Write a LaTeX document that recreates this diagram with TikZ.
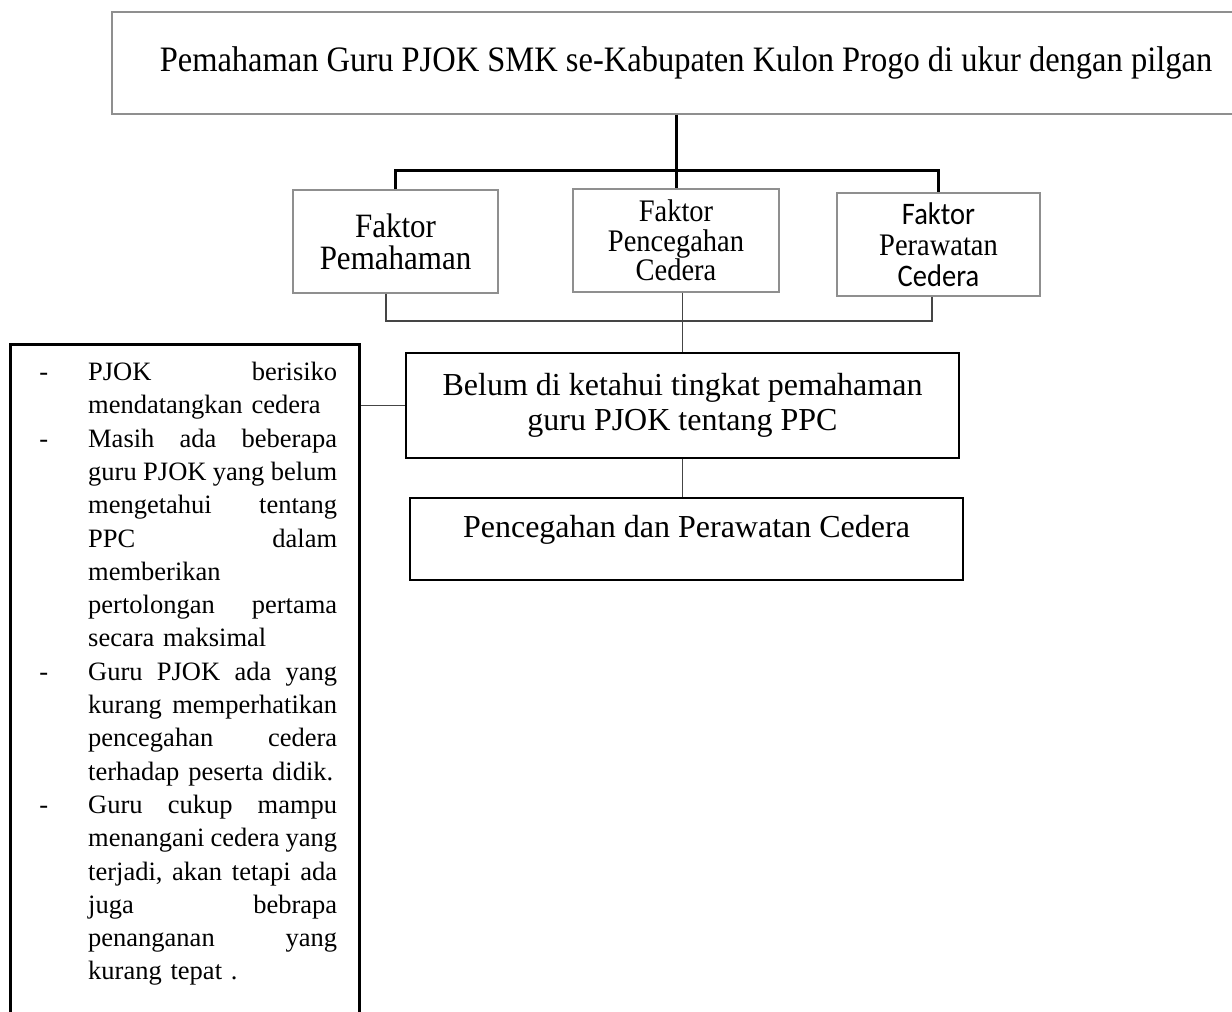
\documentclass[tikz,border=0pt]{standalone}
\usepackage{fontspec}
\usepackage{graphicx}
\setmainfont{Liberation Serif}
\newfontfamily\calib{Carlito}
\definecolor{boxgray}{HTML}{8F8F8F}
\definecolor{conngray}{HTML}{454545}
\newcommand\jl[1]{\leavevmode\hbox to \linewidth{#1}}
\newcommand\dd{\leavevmode\llap{-\hspace{40pt}}}
\newcommand\ys[1]{\scalebox{1}[1.1]{#1}}
\begin{document}
\begin{tikzpicture}[x=1pt,y=-1pt,
  graybox/.style={draw=boxgray, line width=1.3pt, rectangle, inner sep=0pt, align=center},
  blackbox/.style={draw=black, line width=2.6pt, rectangle, inner sep=0pt, align=center},
  thickconn/.style={line width=3pt, draw=black},
  thinconn/.style={line width=1.5pt, draw=conngray}]
\useasboundingbox (0,0) rectangle (1232,1012);

\node[graybox, minimum width=1148pt, minimum height=102pt, font=\fontsize{32.5}{38}\selectfont] (top) at (686,63)
  {\ys{Pemahaman Guru PJOK SMK se-Kabupaten Kulon Progo di ukur dengan pilgan}};

\node[graybox, minimum width=205pt, minimum height=103pt, font=\fontsize{31}{32}\selectfont] (f1) at (395.5,241.5)
  {\ys{Faktor}\\\ys{Pemahaman}};
\node[graybox, minimum width=206pt, minimum height=103pt, font=\fontsize{28.5}{29.5}\selectfont] (f2) at (676,240.5)
  {\ys{Faktor}\\\ys{Pencegahan}\\\ys{Cedera}};
\node[graybox, minimum width=203pt, minimum height=103pt, font=\fontsize{28.5}{31}\selectfont] (f3) at (938.5,244.5)
  {\ys{\calib Faktor}\\\ys{Perawatan}\\\ys{\calib Cedera}};

\node[blackbox, minimum width=553pt, minimum height=105pt, font=\fontsize{32}{35}\selectfont] (belum) at (682.5,405.5)
  {Belum di ketahui tingkat pemahaman\\guru PJOK tentang PPC};

\node[blackbox, minimum width=553pt, minimum height=82pt] (ppc) at (686.5,539) {};
\node[inner sep=0pt, font=\fontsize{32}{35}\selectfont] (ppctext) at (686.5,530) {Pencegahan dan Perawatan Cedera};

\node[blackbox, minimum width=349pt, minimum height=700pt, anchor=north west] (left) at (9,343) {};
\node[anchor=north west, inner sep=0pt, text width=249pt, align=left, font=\fontsize{26.5}{33.3}\selectfont] (list) at (88,362) {%
\dd\jl{PJOK\hfill berisiko}\\
mendatangkan cedera\\
\dd\jl{Masih\hfill ada\hfill beberapa}\\
\jl{guru\hfill PJOK\hfill yang\hfill belum}\\
\jl{mengetahui\hfill tentang}\\
\jl{PPC\hfill dalam}\\
memberikan\\
\jl{pertolongan\hfill pertama}\\
secara maksimal\\
\dd\jl{Guru\hfill PJOK\hfill ada\hfill yang}\\
\jl{kurang\hfill memperhatikan}\\
\jl{pencegahan\hfill cedera}\\
terhadap peserta didik.\\
\dd\jl{Guru\hfill cukup\hfill mampu}\\
\jl{menangani\hfill cedera\hfill yang}\\
\jl{terjadi,\hfill akan\hfill tetapi\hfill ada}\\
\jl{juga\hfill bebrapa}\\
\jl{penanganan\hfill yang}\\
kurang tepat .};

% connectors
\coordinate (bar) at (0,170);
\coordinate (lowbar) at (0,321);
\draw[thickconn] (top.south -| f2.north) -- (f2.north);
\draw[thickconn] (f1.north) -- (f1.north |- bar) -- (f3.north |- bar) -- (f3.north);
\coordinate (b1) at ([xshift=-9.5pt]f1.south);
\coordinate (b3) at ([xshift=-6.5pt]f3.south);
\draw[thinconn] (b1) -- (b1 |- lowbar) -- (b3 |- lowbar) -- (b3);
\draw[thinconn] (f2.south -| belum.north) -- (belum.north);
\draw[thinconn] (belum.south) -- (ppc.north -| belum.south);
\draw[thinconn] (belum.west) -- (belum.west -| left.east);
\end{tikzpicture}
\end{document}
